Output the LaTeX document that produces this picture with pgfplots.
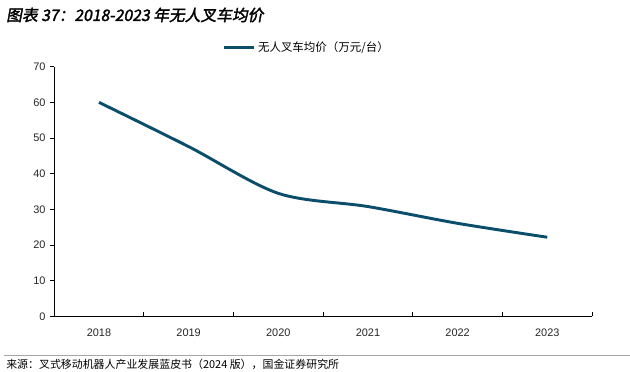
\documentclass[border=0pt]{standalone}
\usepackage{pgfplots}
\pgfplotsset{compat=1.18}
\usepackage{fontspec}
\setmainfont{Liberation Sans}
\newfontfamily\cjk{Noto Sans CJK SC}
\newfontfamily\cjkb[FakeSlant=0.18,FakeBold=2]{Noto Sans CJK SC}
\definecolor{linec}{RGB}{10,78,108}
\begin{document}
\begin{tikzpicture}[x=0.75pt,y=0.75pt]
\useasboundingbox (0,0) rectangle (630,371);
\node[anchor=west,inner sep=0pt,font=\cjkb\fontsize{11.8}{13}\selectfont] at (6,371-15) {图表 37：2018-2023 年无人叉车均价};
\draw[gray!70,line width=0.6pt] (4,371-355) -- (630,371-355);
\node[anchor=west,inner sep=0pt,font=\cjk\fontsize{8.2}{9}\selectfont] at (6,371-364) {来源：叉式移动机器人产业发展蓝皮书（2024 版），国金证券研究所};
\begin{axis}[
  at={(40.6pt,40.9pt)}, anchor=south west,
  scale only axis, width=403.5pt, height=187.35pt,
  xmin=-0.5, xmax=5.5, ymin=0, ymax=70,
  axis x line*=bottom, axis y line*=left,
  axis line style={black,line width=0.6pt,-},
  xtick={0,1,2,3,4,5},
  xticklabels={2018,2019,2020,2021,2022,2023},
  major x tick style={draw=none},
  minor xtick={0.5,1.5,2.5,3.5,4.5,5.5},
  minor x tick style={black,line width=0.5pt,yshift=3.3pt},
  minor tick length=3.3pt,
  ytick={0,10,...,70},
  tick align=outside, major tick length=3pt,
  y tick style={black,line width=0.5pt},
  tick label style={font=\fontsize{8.2}{10}\selectfont,text=black!85},
  xticklabel style={yshift=-3pt},
  /pgf/number format/assume math mode=true,
  legend style={at={(0.305,1.075)},anchor=west,draw=none,fill=none,
    font=\cjk\fontsize{8.6}{10}\selectfont,
    legend cell align=left},
  legend image code/.code={\draw[#1,line width=2.2pt] (0,0) -- (22.5pt,0);},
  clip=false,
]
\addplot[linec, line width=2.2pt, smooth, tension=0.5] coordinates {
(0,60.0) (1,47.6) (2,34.5) (3,30.8) (4,26.1) (5,22.2)};
\addlegendentry{无人叉车均价（万元/台）}
\end{axis}
\end{tikzpicture}
\end{document}
